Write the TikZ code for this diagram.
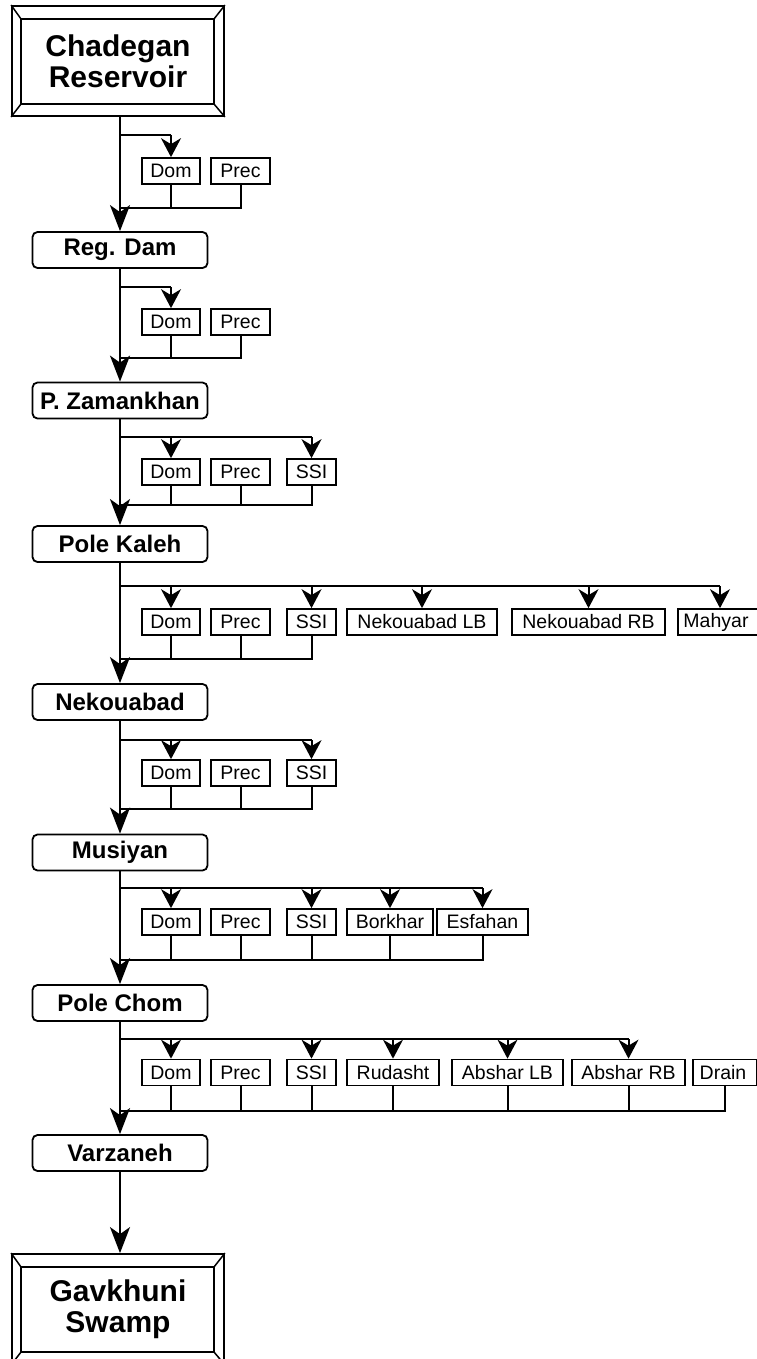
\documentclass[tikz,border=0pt]{standalone}
\usepackage{fontspec}
\setmainfont{Liberation Sans}
\usetikzlibrary{arrows.meta,calc}
\begin{document}
\begin{tikzpicture}[x=1pt,y=-1pt,
  mainbox/.style={draw, rounded corners=5pt, line width=1.8pt, minimum width=175pt, minimum height=36pt, inner sep=0pt, font=\bfseries\fontsize{24}{28}\selectfont},
  framebox/.style={draw, line width=1.8pt, minimum width=212pt, minimum height=110pt, inner sep=0pt, align=center, font=\bfseries\fontsize{30}{31}\selectfont},
  smallbox/.style={draw, line width=1.7pt, minimum height=26pt, inner sep=0pt, font=\fontsize{19.5}{22}\selectfont},
  trunk/.style={line width=2pt, -{Stealth[length=26pt,width=20pt,inset=7pt]}},
  branchline/.style={line width=2.7pt},
  feed/.style={line width=2pt, -{Stealth[length=19pt,width=20pt,inset=6pt]}},
  ret/.style={line width=2pt}]
\useasboundingbox (0,0) rectangle (756,1359);

% main boxes
\node[framebox] (chad) at (118,61) {Chadegan\\Reservoir};
\node[mainbox] (reg) at (120,250) {Reg. Dam};
\node[mainbox] (pz) at (120,400.5) {P. Zamankhan};
\node[mainbox] (pk) at (120,544) {Pole Kaleh};
\node[mainbox] (nek) at (120,702) {Nekouabad};
\node[mainbox] (mus) at (120,852.5) {Musiyan};
\node[mainbox] (pc) at (120,1003) {Pole Chom};
\node[mainbox] (var) at (120,1153) {Varzaneh};
\node[framebox] (gav) at (118,1309) {Gavkhuni\\Swamp};

% frame decorations
\foreach \n in {chad,gav}{
  \draw[line width=1.8pt] ([xshift=10pt,yshift=-14pt]\n.north west) rectangle ([xshift=-11pt,yshift=13pt]\n.south east);
  \draw[line width=1.5pt] (\n.north west) -- ([xshift=10pt,yshift=-14pt]\n.north west);
  \draw[line width=1.5pt] (\n.north east) -- ([xshift=-11pt,yshift=-14pt]\n.north east);
  \draw[line width=1.5pt] (\n.south west) -- ([xshift=10pt,yshift=13pt]\n.south west);
  \draw[line width=1.5pt] (\n.south east) -- ([xshift=-11pt,yshift=13pt]\n.south east);
}

% row 1
\node[smallbox, minimum width=58pt] (dom1) at (171,171) {Dom};
\node[smallbox, minimum width=59pt] (prec1) at (240.5,171) {Prec};
% row 2
\node[smallbox, minimum width=58pt] (dom2) at (171,322) {Dom};
\node[smallbox, minimum width=59pt] (prec2) at (240.5,322) {Prec};
% row 3
\node[smallbox, minimum width=58pt] (dom3) at (171,472) {Dom};
\node[smallbox, minimum width=59pt] (prec3) at (240.5,472) {Prec};
\node[smallbox, minimum width=49pt] (ssi3) at (311.5,472) {SSI};
% row 4
\node[smallbox, minimum width=58pt] (dom4) at (171,622) {Dom};
\node[smallbox, minimum width=59pt] (prec4) at (240.5,622) {Prec};
\node[smallbox, minimum width=49pt] (ssi4) at (311.5,622) {SSI};
\node[smallbox, minimum width=150pt] (nlb4) at (422,622) {Nekouabad LB};
\node[smallbox, minimum width=153pt] (nrb4) at (588.5,622) {Nekouabad RB};
\node[smallbox, minimum width=84pt] (mah4) at (720,622) {\hspace*{-8pt}Mahyar};
% row 5
\node[smallbox, minimum width=58pt] (dom5) at (171,773) {Dom};
\node[smallbox, minimum width=59pt] (prec5) at (240.5,773) {Prec};
\node[smallbox, minimum width=49pt] (ssi5) at (311.5,773) {SSI};
% row 6
\node[smallbox, minimum width=58pt] (dom6) at (171,922) {Dom};
\node[smallbox, minimum width=59pt] (prec6) at (240.5,922) {Prec};
\node[smallbox, minimum width=49pt] (ssi6) at (311.5,922) {SSI};
\node[smallbox, minimum width=86pt] (bor6) at (390,922) {Borkhar};
\node[smallbox, minimum width=91pt] (esf6) at (482.5,922) {Esfahan};
% row 7
\node[smallbox, minimum width=58pt] (dom7) at (171,1072.5) {Dom};
\node[smallbox, minimum width=59pt] (prec7) at (240.5,1072.5) {Prec};
\node[smallbox, minimum width=49pt] (ssi7) at (311.5,1072.5) {SSI};
\node[smallbox, minimum width=92pt] (rud7) at (393,1072.5) {Rudasht};
\node[smallbox, minimum width=111pt] (alb7) at (507.5,1072.5) {Abshar LB};
\node[smallbox, minimum width=113pt] (arb7) at (628.5,1072.5) {Abshar RB};
\node[smallbox, minimum width=64pt] (drn7) at (725,1072.5) {\hspace*{-4pt}Drain};

% branch and merge coordinates
\coordinate (b1) at (120,135);  \coordinate (m1) at (120,208);
\coordinate (b2) at (120,287);  \coordinate (m2) at (120,358);
\coordinate (b3) at (120,437);  \coordinate (m3) at (120,505);
\coordinate (b4) at (120,586);  \coordinate (m4) at (120,659);
\coordinate (b5) at (120,740);  \coordinate (m5) at (120,809);
\coordinate (b6) at (120,888);  \coordinate (m6) at (120,960);
\coordinate (b7) at (120,1039); \coordinate (m7) at (120,1111);

% trunk
\draw[trunk] (chad.south -| reg) -- (reg.north);
\draw[trunk] (reg.south) -- (pz.north);
\draw[trunk] (pz.south) -- (pk.north);
\draw[trunk] (pk.south) -- (nek.north);
\draw[trunk] (nek.south) -- (mus.north);
\draw[trunk] (mus.south) -- (pc.north);
\draw[trunk] (pc.south) -- (var.north);
\draw[trunk] (var.south) -- (gav.north -| var);

% branch lines
\draw[branchline] (chad.south -| reg) -- (b1) -- (b1 -| dom1);
\draw[branchline] (reg.south) -- (b2) -- (b2 -| dom2);
\draw[branchline] (pz.south) -- (b3) -- (b3 -| ssi3);
\draw[branchline] (pk.south) -- (b4) -- (b4 -| mah4);
\draw[branchline] (nek.south) -- (b5) -- (b5 -| ssi5);
\draw[branchline] (mus.south) -- (b6) -- (b6 -| esf6);
\draw[branchline] (pc.south) -- (b7) -- (b7 -| arb7);

% feeds
\foreach \t/\r in {dom1/1,dom2/2,dom3/3,ssi3/3,dom4/4,ssi4/4,nlb4/4,nrb4/4,mah4/4,dom5/5,ssi5/5,dom6/6,ssi6/6,bor6/6,esf6/6,dom7/7,ssi7/7,rud7/7,alb7/7,arb7/7}
  \draw[feed] (b\r -| \t) -- (\t.north);

% returns
\foreach \s/\r in {dom1/1,prec1/1,dom2/2,prec2/2,dom3/3,prec3/3,ssi3/3,dom4/4,prec4/4,ssi4/4,dom5/5,prec5/5,ssi5/5,dom6/6,prec6/6,ssi6/6,bor6/6,esf6/6,dom7/7,prec7/7,ssi7/7,rud7/7,alb7/7,arb7/7,drn7/7}
  \draw[ret] (\s.south) |- (m\r);
\end{tikzpicture}
\end{document}
